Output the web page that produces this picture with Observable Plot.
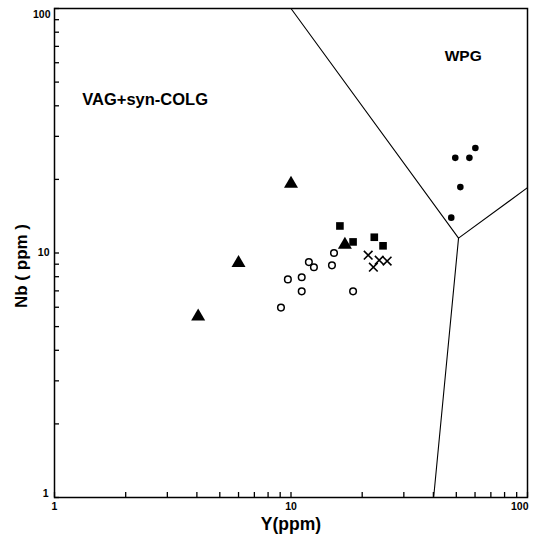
<!DOCTYPE html>
<html><head><meta charset="utf-8">
<script src="https://cdn.jsdelivr.net/npm/d3@7"></script>
<script src="https://cdn.jsdelivr.net/npm/@observablehq/plot@0.6"></script>
<style>body{margin:0;background:#fff;} svg{font-family:"Liberation Sans",Arial,sans-serif;}</style>
</head><body><div id="chart"></div>
<script>
// Series values (Y ppm, Nb ppm)
const triY = [10.0, 6.0, 4.05, 16.9];
const triNb = [19.2, 9.1, 5.5, 10.8];
const sqY = [16.1, 18.3, 22.5, 24.5];
const sqNb = [12.9, 11.1, 11.6, 10.7];
const crossY = [21.2, 22.3, 23.6, 25.5];
const crossNb = [9.8, 8.75, 9.35, 9.27];
const openY = [15.2, 11.9, 12.5, 14.9, 11.1, 9.7, 11.1, 18.3, 9.07];
const openNb = [10.0, 9.18, 8.75, 8.9, 7.96, 7.8, 6.97, 6.97, 5.98];
const fillY = [60.2, 49.5, 56.8, 52.0, 47.6];
const fillNb = [26.9, 24.5, 24.5, 18.6, 13.95];

// Field boundaries (Y, Nb)
const boundA = [[10, 100], [51.1, 11.5]];
const boundB = [[51.1, 11.5], [100, 18.5]];
const boundC = [[51.1, 11.5], [40.1, 1]];

// Field labels (text, Y, Nb)
const fieldLabels = [{text: "WPG", x: 53.5, y: 64.2}];
const fieldLabels2 = [{text: "VAG+syn-COLG", x: 1.31, y: 42.4}];

// Tick values and labels
const majorTicks = [1, 10, 100];
const minorTicks = [2, 3, 4, 5, 6, 7, 8, 9, 20, 30, 40, 50, 60, 70, 80, 90];
const xTickLabels = ["1", "10", "100"];
const yTickLabels = ["1", "10", "100"];

const pts = (xs, ys) => xs.map((x, i) => ({x, y: ys[i]}));
const allTicks = [...majorTicks, ...minorTicks];
const W = 533, H = 536, ML = 54, MR = 6, MT = 8, MB = 39;
const fw = W - ML - MR, fh = H - MT - MB;
const tl = 5;

const chart = Plot.plot({
  width: W,
  height: H,
  marginLeft: ML,
  marginRight: MR,
  marginTop: MT,
  marginBottom: MB,
  x: {type: "log", domain: [1, 100], axis: null},
  y: {type: "log", domain: [1, 100], axis: null},
  marks: [
    Plot.tickX(allTicks, {x: d => d, insetTop: fh - tl, stroke: "black", strokeWidth: 1.3}),
    Plot.tickY(allTicks, {y: d => d, insetRight: fw - tl, stroke: "black", strokeWidth: 1.3}),
    Plot.frame({stroke: "black", strokeWidth: 1.5}),
    Plot.line(boundA, {x: d => d[0], y: d => d[1], stroke: "black", strokeWidth: 1.1}),
    Plot.line(boundB, {x: d => d[0], y: d => d[1], stroke: "black", strokeWidth: 1.1}),
    Plot.line(boundC, {x: d => d[0], y: d => d[1], stroke: "black", strokeWidth: 1.1}),
    // x tick labels
    Plot.text(majorTicks.slice(0, 2), {x: d => d, y: 1, text: (d, i) => xTickLabels[i], dy: 9, fontSize: 10.5, fontWeight: "bold", textAnchor: "middle"}),
    Plot.text(majorTicks.slice(2), {x: d => d, y: 1, text: () => xTickLabels[2], dy: 9, dx: 1, fontSize: 10.5, fontWeight: "bold", textAnchor: "end"}),
    // y tick labels
    Plot.text([majorTicks[0]], {x: 1, y: d => d, text: () => yTickLabels[0], dx: -6, dy: -4, textAnchor: "end", fontSize: 10.5, fontWeight: "bold"}),
    Plot.text([majorTicks[1]], {x: 1, y: d => d, text: () => yTickLabels[1], dx: -5, dy: 0, textAnchor: "end", fontSize: 10.5, fontWeight: "bold"}),
    Plot.text([majorTicks[2]], {x: 1, y: d => d, text: () => yTickLabels[2], dx: -4, dy: 6, textAnchor: "end", fontSize: 10.5, fontWeight: "bold"}),
    // data
    Plot.dot(pts(openY, openNb), {x: "x", y: "y", symbol: "circle", r: 3.3, stroke: "black", strokeWidth: 1.5, fill: "white"}),
    Plot.dot(pts(triY, triNb), {x: "x", y: "y", symbol: "triangle", r: 5.2, fill: "black"}),
    Plot.dot(pts(sqY, sqNb), {x: "x", y: "y", symbol: "square", r: 4.3, fill: "black"}),
    Plot.dot(pts(crossY, crossNb), {x: "x", y: "y", symbol: "times", r: 4, stroke: "black", strokeWidth: 1.6}),
    Plot.dot(pts(fillY, fillNb), {x: "x", y: "y", symbol: "circle", r: 3.3, fill: "black"}),
    // field labels
    Plot.text(fieldLabels, {x: "x", y: "y", text: "text", textAnchor: "middle", fontSize: 15.5, fontWeight: "bold", letterSpacing: "2.2px"}),
    Plot.text(fieldLabels2, {x: "x", y: "y", text: "text", textAnchor: "start", fontSize: 16.5, fontWeight: "bold", letterSpacing: "1px"}),
    // axis titles
    Plot.text(["Y(ppm)"], {frameAnchor: "bottom", dy: 32, text: d => d, fontSize: 17.5, fontWeight: "bold", letterSpacing: "0.5px"}),
    Plot.text(["Nb ( ppm )"], {frameAnchor: "left", textAnchor: "middle", dx: -33, dy: 13, rotate: -90, text: d => d, fontSize: 17, fontWeight: "bold"})
  ]
});
document.getElementById("chart").appendChild(chart);
</script>
</body></html>
